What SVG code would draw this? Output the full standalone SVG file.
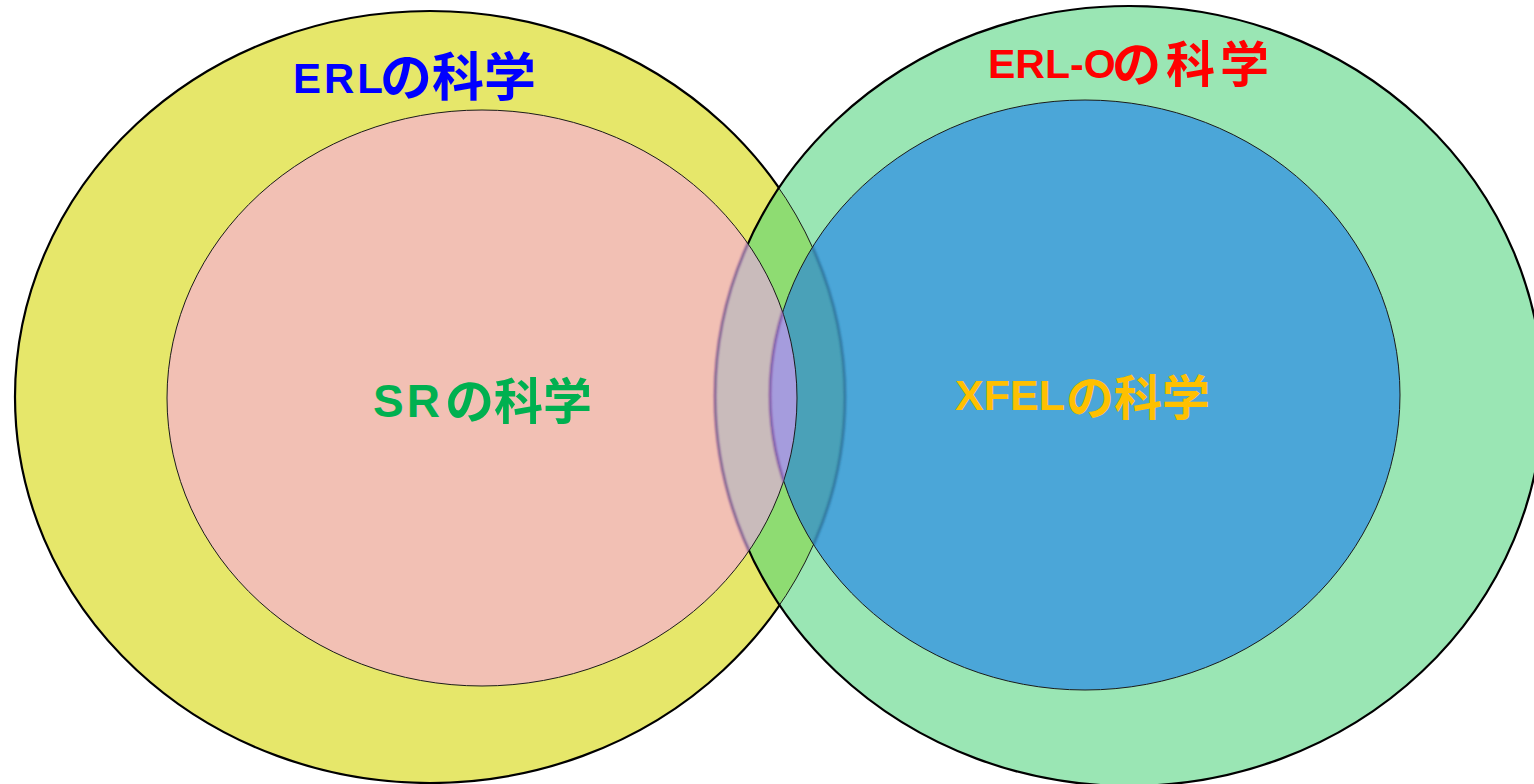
<svg xmlns="http://www.w3.org/2000/svg" width="1534" height="784" viewBox="0 0 1534 784">
  <style>
    .lat { font-family: "Liberation Sans", "Noto Sans CJK JP", sans-serif; font-weight: bold; }
    .cjk { font-family: "Noto Sans CJK JP", "Noto Sans CJK SC", sans-serif; font-weight: bold; }
    .thick { fill: none; stroke: #000; stroke-width: 2.2; }
    .thin { fill: none; stroke: #1a1a1a; stroke-width: 1; }
    .soft { fill: none; stroke-width: 2.2; filter: url(#blur); }
  </style>
  <defs>
    <filter id="blur" x="-5%" y="-5%" width="110%" height="110%">
      <feGaussianBlur stdDeviation="0.8"/>
    </filter>
    <clipPath id="clipG"><ellipse cx="1129" cy="396" rx="414" ry="390"/></clipPath>
    <clipPath id="clipB"><ellipse cx="1085" cy="395" rx="315" ry="295"/></clipPath>
    <clipPath id="clipP"><ellipse cx="482" cy="398" rx="315" ry="288"/></clipPath>
    <mask id="outG"><rect width="1534" height="784" fill="#fff"/><ellipse cx="1129" cy="396" rx="414" ry="390" fill="#000"/></mask>
    <mask id="outB"><rect width="1534" height="784" fill="#fff"/><ellipse cx="1085" cy="395" rx="315" ry="295" fill="#000"/></mask>
    <mask id="outP"><rect width="1534" height="784" fill="#fff"/><ellipse cx="482" cy="398" rx="315" ry="288" fill="#000"/></mask>
  </defs>

  <g id="erl-circle">
    <ellipse cx="430" cy="397" rx="415" ry="386" fill="#E6E76A"/>
  </g>
  <g id="sr-ellipse">
    <ellipse cx="482" cy="398" rx="315" ry="288" fill="#F2C0B4"/>
  </g>
  <g id="erlo-circle">
    <ellipse cx="1129" cy="396" rx="414" ry="390" fill="#9AE6B4"/>
    <ellipse cx="430" cy="397" rx="415" ry="386" fill="#8EDC72" clip-path="url(#clipG)"/>
    <ellipse cx="482" cy="398" rx="315" ry="288" fill="#C9BBBB" clip-path="url(#clipG)"/>
  </g>
  <g id="xfel-ellipse">
    <ellipse cx="1085" cy="395" rx="315" ry="295" fill="#4BA6D8"/>
    <ellipse cx="430" cy="397" rx="415" ry="386" fill="#4AA1B8" clip-path="url(#clipB)"/>
    <ellipse cx="482" cy="398" rx="315" ry="288" fill="#A59CDD" clip-path="url(#clipB)"/>
  </g>

  <g id="outlines">
    <ellipse cx="430" cy="397" rx="415" ry="386" class="thick" mask="url(#outG)"/>
    <g clip-path="url(#clipG)">
      <ellipse cx="430" cy="397" rx="415" ry="386" class="thin" mask="url(#outB)"/>
    </g>
    <g clip-path="url(#clipB)">
      <ellipse cx="430" cy="397" rx="415" ry="386" class="soft" stroke="#2C6F98"/>
    </g>
    <ellipse cx="1129" cy="396" rx="414" ry="390" class="thick" mask="url(#outP)"/>
    <g clip-path="url(#clipP)">
      <ellipse cx="1129" cy="396" rx="414" ry="390" class="soft" stroke="#7A4E8E"/>
    </g>
    <ellipse cx="482" cy="398" rx="315" ry="288" class="thin"/>
    <ellipse cx="1085" cy="395" rx="315" ry="295" class="thin" stroke="#16324d" mask="url(#outP)"/>
    <g clip-path="url(#clipP)">
      <ellipse cx="1085" cy="395" rx="315" ry="295" class="soft" stroke="#8250A0"/>
    </g>
  </g>

  <g id="label-erl" fill="#0000FF">
    <text><tspan class="lat" x="293" y="93" font-size="42" letter-spacing="3">ERL</tspan><tspan class="cjk" x="380" y="96" font-size="52">の科学</tspan></text>
  </g>
  <g id="label-erlo" fill="#FF0000">
    <text><tspan class="lat" x="988" y="78" font-size="41">ERL-O</tspan><tspan class="cjk" x="1112" y="82" font-size="49" letter-spacing="5">の科学</tspan></text>
  </g>
  <g id="label-sr" fill="#00B050">
    <text><tspan class="lat" x="373" y="417" font-size="46" letter-spacing="3">SR</tspan><tspan class="cjk" x="445" y="419" font-size="49">の科学</tspan></text>
  </g>
  <g id="label-xfel" fill="#FFC000">
    <text><tspan class="lat" x="955" y="410" font-size="43">XFEL</tspan><tspan class="cjk" x="1066" y="415" font-size="48">の科学</tspan></text>
  </g>
</svg>
